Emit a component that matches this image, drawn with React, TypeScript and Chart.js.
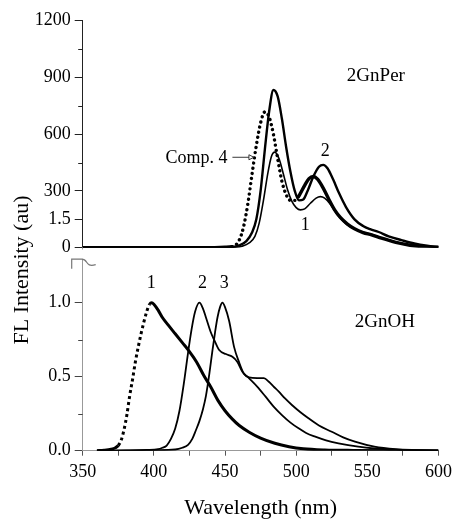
import React, { useEffect, useRef } from 'react';
import { Chart, registerables } from 'chart.js';

Chart.register(...registerables);

const FONT = '"Liberation Serif", "Times New Roman", serif';

// ---------- Top panel (2GnPer), FL intensity in au ----------
const topWl1 = [350, 400, 440, 455, 462, 467, 471, 474, 477, 480, 482.5, 485, 488, 491, 494, 497, 500, 503, 506, 510, 514, 517, 520, 524, 528, 532, 537, 542, 548, 554, 560, 570, 580, 590, 600];
const topI1 = [0, 0, 0, 2, 8, 25, 60, 130, 250, 390, 480, 505, 470, 390, 305, 245, 212, 200, 205, 235, 262, 270, 262, 230, 185, 148, 115, 95, 80, 68, 52, 30, 14, 6, 2];

const topWl2 = [350, 400, 440, 455, 460, 465, 469, 472, 475, 478, 481, 484, 487, 490, 493, 496, 499, 502, 505, 508, 512, 516, 519, 522, 526, 530, 535, 541, 547, 552, 558, 565, 574, 583, 592, 600];
const topI2 = [0, 0, 0, 3, 12, 35, 80, 150, 300, 520, 720, 834, 800, 680, 530, 400, 300, 250, 255, 300, 375, 428, 438, 420, 360, 290, 215, 150, 115, 98, 83, 60, 40, 22, 10, 3];

const topWlComp4 = [350, 400, 440, 450, 455, 460, 463, 466, 469, 472, 475, 478, 481, 484, 487, 490, 493, 496, 499, 502, 506, 509, 512, 515, 519, 523, 527, 531, 536, 541, 547, 553, 560, 570, 580, 590, 600];
const topIComp4 = [0, 0, 0, 2, 5, 40, 110, 230, 390, 540, 660, 718, 690, 600, 470, 350, 280, 250, 250, 275, 330, 365, 376, 362, 315, 255, 200, 160, 125, 100, 80, 68, 50, 28, 13, 5, 2];

// ---------- Bottom panel (2GnOH), normalized FL ----------
const botWl1 = [360, 365, 370, 373, 375, 377, 379, 381, 383, 385, 387, 389, 391, 393, 395, 397, 398.5, 400, 403, 406, 410, 415, 420, 425, 430, 435, 440, 445, 450, 455, 460, 467, 475, 485, 495, 505, 520, 540, 600];
const botI1 = [0, 0.003, 0.01, 0.02, 0.035, 0.07, 0.14, 0.24, 0.37, 0.48, 0.6, 0.7, 0.79, 0.87, 0.94, 0.99, 1.0, 0.99, 0.95, 0.9, 0.85, 0.79, 0.73, 0.67, 0.6, 0.51, 0.43, 0.34, 0.27, 0.215, 0.17, 0.125, 0.085, 0.05, 0.027, 0.013, 0.005, 0.002, 0];

const botWl2 = [360, 380, 395, 403, 406, 409, 412, 415, 418, 421, 424, 426.5, 429, 432, 434.5, 436.6, 440, 442.4, 445.9, 450.6, 455.2, 458.7, 462.2, 466.8, 472.6, 478.5, 484, 490, 496, 501.7, 507, 513.4, 521, 529.7, 543.6, 555, 570, 585, 600];
const botI2 = [0, 0.002, 0.005, 0.01, 0.02, 0.035, 0.08, 0.15, 0.27, 0.45, 0.66, 0.82, 0.94, 1.0, 0.96, 0.9, 0.8, 0.748, 0.68, 0.653, 0.635, 0.6, 0.534, 0.49, 0.433, 0.365, 0.3, 0.241, 0.19, 0.151, 0.12, 0.095, 0.07, 0.05, 0.027, 0.015, 0.007, 0.003, 0];

const botWl3 = [360, 400, 415, 420, 424, 427, 429.6, 432, 434.5, 436.6, 439, 441.2, 443, 444.7, 446.5, 448.2, 450, 452.9, 456.4, 459.8, 463.3, 466.8, 472.6, 477.3, 480.8, 484, 487.8, 492, 497, 503, 508.7, 516, 525, 533, 541.3, 555, 570, 585, 600];
const botI3 = [0, 0.003, 0.008, 0.02, 0.04, 0.08, 0.14, 0.2, 0.28, 0.37, 0.52, 0.68, 0.8, 0.9, 0.97, 1.0, 0.97, 0.876, 0.7, 0.6, 0.52, 0.495, 0.49, 0.49, 0.466, 0.435, 0.399, 0.355, 0.309, 0.26, 0.219, 0.17, 0.128, 0.09, 0.061, 0.027, 0.01, 0.004, 0];

// ---------- Axis ticks ----------
const xMin = 350, xMax = 600, xStep = 25;
const xLabelEvery = 50;
const topMin = 0, topMax = 1200, topStep = 150;
const topLabels: Record<number, string> = { 0: '0', 150: '1.5', 300: '300', 600: '600', 900: '900', 1200: '1200' };
const topMinorTicks = [450, 750, 1050];
const botMin = 0, botMax = 1.3716, botStep = 0.25;
const botLabels: Record<string, string> = { '0': '0.0', '0.5': '0.5', '1': '1.0' };
const botMinorTicks = [0.25, 0.75];

const pts = (xs: number[], ys: number[]) => xs.map((x, i) => ({ x, y: ys[i] }));

const decorPlugin = {
  id: 'decor',
  afterDraw(chart: any) {
    const { ctx, scales } = chart;
    const sx = scales.x, yt = scales.yTop, yb = scales.yBot;
    const x0 = sx.getPixelForValue(350);
    const yZero = yt.getPixelForValue(0);
    ctx.save();
    // short minor ticks on the y axes
    ctx.lineWidth = 1;
    ctx.strokeStyle = '#222';
    topMinorTicks.forEach((v) => {
      const y = Math.round(yt.getPixelForValue(v)) + 0.5;
      ctx.beginPath(); ctx.moveTo(x0 - 4.5, y); ctx.lineTo(x0, y); ctx.stroke();
    });
    ctx.strokeStyle = '#444';
    botMinorTicks.forEach((v) => {
      const y = Math.round(yb.getPixelForValue(v)) + 0.5;
      ctx.beginPath(); ctx.moveTo(x0 - 4.5, y); ctx.lineTo(x0, y); ctx.stroke();
    });
    // axis break gap
    ctx.fillStyle = '#fff';
    ctx.fillRect(x0 - 3, yZero + 1.8, 6, 9.3);
    ctx.strokeStyle = '#777';
    ctx.lineWidth = 1.2;
    ctx.beginPath();
    ctx.moveTo(x0 - 11, yZero + 21);
    ctx.lineTo(x0 - 11, yZero + 11.5);
    ctx.lineTo(x0 - 1, yZero + 11.5);
    ctx.bezierCurveTo(x0 + 6, yZero + 11.5, x0 + 2, yZero + 20, x0 + 13, yZero + 17);
    ctx.stroke();

    ctx.fillStyle = '#000';
    ctx.textAlign = 'center';
    ctx.textBaseline = 'middle';
    const put = (txt: string, xv: number, yv: number, ys: any, size: number) => {
      ctx.font = `${size}px ${FONT}`;
      ctx.fillText(txt, sx.getPixelForValue(xv), ys.getPixelForValue(yv));
    };
    put('2GnPer', 556, 908, yt, 19);
    put('Comp. 4', 430, 475, yt, 18);
    put('1', 506.4, 120, yt, 18);
    put('2', 520.4, 508, yt, 18);
    put('2GnOH', 562.3, 0.872, yb, 19);
    put('1', 398.2, 1.131, yb, 18);
    put('2', 434.2, 1.131, yb, 18);
    put('3', 449.4, 1.131, yb, 18);

    // arrow for Comp. 4
    const ax0 = sx.getPixelForValue(455.2), ax1 = sx.getPixelForValue(470.3);
    const ay = yt.getPixelForValue(478);
    ctx.strokeStyle = '#222';
    ctx.lineWidth = 0.9;
    ctx.beginPath();
    ctx.moveTo(ax0, ay);
    ctx.lineTo(ax1 - 5, ay);
    ctx.stroke();
    ctx.beginPath();
    ctx.moveTo(ax1 - 5, ay - 2.5);
    ctx.lineTo(ax1, ay);
    ctx.lineTo(ax1 - 5, ay + 2.5);
    ctx.closePath();
    ctx.stroke();

    // y axis title
    ctx.translate(22, 270);
    ctx.rotate(-Math.PI / 2);
    ctx.font = `22px ${FONT}`;
    ctx.fillStyle = '#000';
    ctx.fillText('FL Intensity (au)', 0, 0);
    ctx.restore();
  },
};

export default function App() {
  const ref = useRef<HTMLCanvasElement>(null);
  useEffect(() => {
    const canvas = ref.current!;
    const tickFont = { family: FONT, size: 18 };
    const chart = new Chart(canvas, {
      type: 'line',
      data: {
        datasets: [
          { data: pts(topWl1, topI1), yAxisID: 'yTop', borderColor: '#000', borderWidth: 1.6 },
          { data: pts(topWl2, topI2), yAxisID: 'yTop', borderColor: '#000', borderWidth: 2.4 },
          {
            data: pts(topWlComp4, topIComp4), yAxisID: 'yTop', borderColor: '#000', borderWidth: 3.4,
            borderCapStyle: 'round',
            segment: { borderDash: (c: any) => (c.p0.parsed.x >= 455 && c.p0.parsed.x < 500 ? [0.01, 5.2] : undefined) },
          },
          {
            data: pts(botWl1, botI1), yAxisID: 'yBot', borderColor: '#000', borderWidth: 3,
            segment: { borderDash: (c: any) => (c.p0.parsed.x >= 375 && c.p0.parsed.x < 397 ? [3, 3] : undefined) },
          },
          { data: pts(botWl2, botI2), yAxisID: 'yBot', borderColor: '#000', borderWidth: 1.8 },
          { data: pts(botWl3, botI3), yAxisID: 'yBot', borderColor: '#000', borderWidth: 1.8 },
        ],
      },
      options: {
        animation: false,
        responsive: false,
        layout: { padding: { left: 0, right: 17.3, top: 20.7, bottom: 0 } },
        plugins: { legend: { display: false }, tooltip: { enabled: false }, title: { display: false } },
        elements: { point: { radius: 0 }, line: { cubicInterpolationMode: 'monotone', fill: false } },
        scales: {
          x: {
            type: 'linear', position: 'bottom', min: xMin, max: xMax,
            ticks: {
              stepSize: xStep, autoSkip: false, maxRotation: 0, padding: 6, color: '#000', font: tickFont,
              callback: (v: any) => (v % xLabelEvery === 0 ? String(v) : ''),
            },
            grid: { drawOnChartArea: false, tickLength: 5, color: '#555' },
            border: { color: '#999', width: 1 },
            title: { display: true, text: 'Wavelength (nm)', color: '#000', font: { family: FONT, size: 22, lineHeight: 1 }, padding: 0 },
            afterFit: (s: any) => { s.height = 68.3; },
          },
          yTop: {
            type: 'linear', position: 'left', stack: 'y', stackWeight: 227, weight: 2,
            min: topMin, max: topMax,
            ticks: {
              stepSize: topStep, autoSkip: false, padding: 4, color: '#000', font: tickFont,
              callback: (v: any) => (topLabels[v] !== undefined ? topLabels[v] : ''),
            },
            grid: {
              drawOnChartArea: false, tickLength: 8,
              tickColor: (c: any) => (c.tick && topMinorTicks.includes(c.tick.value) ? 'rgba(0,0,0,0)' : '#222'),
            },
            border: { color: '#222', width: 1 },
            afterFit: (s: any) => { s.width = 82.7; },
          },
          yBot: {
            type: 'linear', position: 'left', stack: 'y', stackWeight: 203, weight: 1,
            min: botMin, max: botMax,
            ticks: {
              stepSize: botStep, autoSkip: false, padding: 4, color: '#000', font: tickFont,
              callback: (v: any) => {
                const key = String(Math.round(v * 100) / 100);
                if (botLabels[key] !== undefined) return botLabels[key];
                if (v < 1.01) return '';
                return null;
              },
            },
            grid: {
              drawOnChartArea: false, tickLength: 8,
              tickColor: (c: any) => (c.tick && botMinorTicks.some((m) => Math.abs(m - c.tick.value) < 1e-6) ? 'rgba(0,0,0,0)' : '#444'),
            },
            border: { color: '#999', width: 1 },
            afterFit: (s: any) => { s.width = 82.7; },
          },
        },
      } as any,
      plugins: [decorPlugin],
    });
    return () => chart.destroy();
  }, []);
  return (
    <div style={{ position: 'fixed', left: 0, top: 0, width: 458, height: 519, background: '#fff' }}>
      <canvas ref={ref} width={458} height={519} style={{ display: 'block' }} />
    </div>
  );
}
